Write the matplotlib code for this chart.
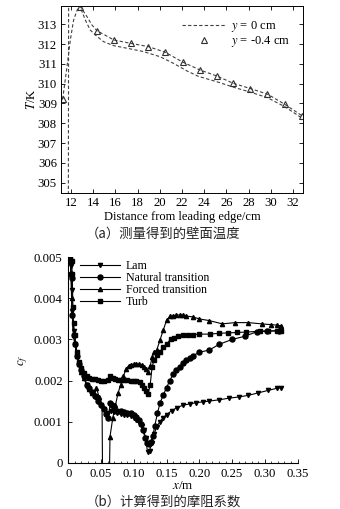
import matplotlib
matplotlib.use("Agg")
import matplotlib.pyplot as plt
from matplotlib.ticker import MultipleLocator
from matplotlib.lines import Line2D

plt.rcParams["font.family"] = ["Liberation Serif", "DejaVu Serif"]
plt.rcParams["mathtext.fontset"] = "stix"
plt.rcParams["font.size"] = 9

# ---- (a) measured wall temperature ----
# y = -0.4 cm: triangle markers
tri_x = [11.25, 12.84, 14.34, 15.89, 17.42, 18.97, 20.47, 22.06, 23.62, 25.12, 26.61, 28.17, 29.70, 31.25, 32.84]
tri_T = [309.22, 313.86, 312.67, 312.20, 312.03, 311.87, 311.59, 311.09, 310.69, 310.39, 310.02, 309.75, 309.47, 308.96, 308.37]
# dashed curve through the triangles
up_x = [11.25, 11.64, 11.94, 12.23, 12.54, 12.84, 13.44, 13.89, 14.34, 15.89, 17.42, 18.97, 20.47, 22.06, 23.62,
        25.12, 26.61, 28.17, 29.70, 31.25, 32.84]
up_T = [309.22, 310.86, 312.20, 313.20, 313.70, 313.90, 313.38, 312.96, 312.67, 312.20, 312.03, 311.87, 311.59,
        311.09, 310.69, 310.39, 310.02, 309.75, 309.47, 308.96, 308.37]
# y = 0 cm: dashed curve
low_x = [11.76, 11.79, 12.30, 12.60, 12.84, 13.30, 13.73, 14.18, 14.93, 15.83, 17.03, 18.52, 20.02, 21.22, 22.42,
         23.47, 25.12, 26.64, 28.17, 29.70, 31.25, 32.84]
low_T = [303.0, 315.5, 315.0, 314.2, 313.85, 313.20, 312.71, 312.46, 312.12, 311.92, 311.79, 311.62, 311.36,
         311.03, 310.65, 310.37, 310.10, 309.82, 309.57, 309.29, 308.84, 308.25]
a_xticks = [12, 14, 16, 18, 20, 22, 24, 26, 28, 30, 32]
a_yticks = [305, 306, 307, 308, 309, 310, 311, 312, 313]

# ---- (b) computed skin friction coefficient ----
lam_x = [0.003, 0.004, 0.005, 0.006, 0.008, 0.010, 0.013, 0.016, 0.020, 0.024, 0.028, 0.032, 0.036, 0.040,
         0.045, 0.050, 0.055, 0.060, 0.065, 0.070, 0.075, 0.080, 0.085, 0.090, 0.095, 0.100, 0.104, 0.108,
         0.112, 0.115, 0.118, 0.121, 0.124, 0.127, 0.131, 0.135, 0.140, 0.145, 0.150, 0.158, 0.166, 0.175,
         0.185, 0.195, 0.205, 0.215, 0.230, 0.245, 0.260, 0.275, 0.290, 0.305, 0.318, 0.325]
lam_cf = [0.0050, 0.0048, 0.0042, 0.0037, 0.0032, 0.0029, 0.0026, 0.0024, 0.0022, 0.00205, 0.0019, 0.0018,
          0.0017, 0.0016, 0.00148, 0.0014, 0.0013, 0.00122, 0.00125, 0.00123, 0.0012, 0.00118, 0.00117,
          0.00115, 0.00113, 0.0011, 0.00105, 0.00098, 0.0009, 0.0008, 0.0006, 0.00025, 0.00028, 0.00048,
          0.0007, 0.00088, 0.0010, 0.0011, 0.00117, 0.00127, 0.00134, 0.0014, 0.00143, 0.00146, 0.00148,
          0.0015, 0.00153, 0.00157, 0.0016, 0.00164, 0.0017, 0.00176, 0.00181, 0.00183]

nat_x = [0.003, 0.004, 0.005, 0.006, 0.008, 0.010, 0.013, 0.016, 0.020, 0.024, 0.028, 0.032, 0.036, 0.040,
         0.045, 0.050, 0.055, 0.058, 0.061, 0.064, 0.067, 0.070, 0.075, 0.080, 0.085, 0.090, 0.095, 0.100,
         0.104, 0.108, 0.111, 0.114, 0.117, 0.120, 0.123, 0.126, 0.129, 0.132, 0.136, 0.140, 0.145, 0.150,
         0.155, 0.160, 0.165, 0.170, 0.175, 0.180, 0.185, 0.190, 0.200, 0.215, 0.230, 0.250, 0.270, 0.288,
         0.303, 0.322]
nat_cf = [0.0049, 0.0046, 0.0045, 0.0036, 0.0031, 0.0029, 0.0026, 0.0024, 0.00225, 0.0021, 0.0019, 0.00182,
          0.00172, 0.00162, 0.0015, 0.0014, 0.0013, 0.00118, 0.00108, 0.00145, 0.0014, 0.0013, 0.00127,
          0.00125, 0.00123, 0.00122, 0.0012, 0.00117, 0.00112, 0.00105, 0.00095, 0.0008, 0.0006, 0.00047,
          0.00045, 0.0005, 0.00065, 0.0009, 0.0012, 0.00145, 0.00165, 0.00183, 0.0020, 0.00216, 0.00225,
          0.00234, 0.00242, 0.0025, 0.00255, 0.0026, 0.00269, 0.00274, 0.00288, 0.0030, 0.00308, 0.00319,
          0.00321, 0.00321]

forc_x = [0.003, 0.004, 0.005, 0.006, 0.008, 0.010, 0.013, 0.016, 0.020, 0.024, 0.028, 0.032, 0.036, 0.040,
          0.043, 0.047, 0.0515, 0.0524, 0.0626, 0.0636, 0.068, 0.072, 0.076, 0.080, 0.084, 0.088, 0.092,
          0.096, 0.100, 0.104, 0.108, 0.112, 0.116, 0.119, 0.122, 0.125, 0.128, 0.131, 0.135, 0.140, 0.145,
          0.150, 0.155, 0.160, 0.165, 0.170, 0.175, 0.180, 0.190, 0.200, 0.215, 0.235, 0.255, 0.275, 0.295,
          0.310, 0.318, 0.325]
forc_cf = [0.0050, 0.0046, 0.0040, 0.0036, 0.0031, 0.0029, 0.0026, 0.0024, 0.0022, 0.00205, 0.0019, 0.0018,
           0.0017, 0.00165, 0.00182, 0.0016, 0.0014, -0.0005, -0.0005, 0.00063, 0.0011, 0.0014, 0.0017,
           0.0019, 0.0021, 0.00228, 0.00236, 0.00239, 0.0024, 0.0024, 0.0024, 0.00238, 0.00234, 0.00228,
           0.00222, 0.00235, 0.00258, 0.0027, 0.00274, 0.00299, 0.00323, 0.00347, 0.00356, 0.00358, 0.00359,
           0.0036, 0.00359, 0.00357, 0.00355, 0.0035, 0.00346, 0.00338, 0.00341, 0.00341, 0.00338, 0.00336,
           0.00335, 0.00333]

turb_x = [0.003, 0.004, 0.005, 0.006, 0.007, 0.008, 0.010, 0.013, 0.016, 0.020, 0.024, 0.028, 0.032, 0.036,
          0.040, 0.045, 0.050, 0.055, 0.060, 0.064, 0.068, 0.072, 0.076, 0.080, 0.085, 0.090, 0.095, 0.100,
          0.104, 0.109, 0.113, 0.116, 0.119, 0.122, 0.125, 0.128, 0.131, 0.135, 0.140, 0.145, 0.150, 0.156,
          0.162, 0.168, 0.175, 0.183, 0.191, 0.200, 0.216, 0.230, 0.244, 0.258, 0.272, 0.292, 0.305, 0.318,
          0.325]
turb_cf = [0.0050, 0.0049, 0.0049, 0.0046, 0.0038, 0.0034, 0.0031, 0.0027, 0.00245, 0.0023, 0.00218, 0.0021,
           0.00206, 0.00204, 0.00203, 0.00202, 0.0020, 0.0020, 0.00201, 0.00212, 0.00206, 0.00203, 0.00202,
           0.00201, 0.00201, 0.00201, 0.0020, 0.0020, 0.0020, 0.00197, 0.0019, 0.00182, 0.00175, 0.00168,
           0.0019, 0.00234, 0.0025, 0.00262, 0.0027, 0.00282, 0.00289, 0.0030, 0.00304, 0.00308, 0.0031,
           0.00311, 0.00312, 0.00313, 0.00313, 0.00315, 0.00316, 0.00317, 0.00318, 0.0032, 0.0032, 0.00321,
           0.0032]
b_xticks = [0, 0.05, 0.10, 0.15, 0.20, 0.25, 0.30, 0.35]
b_xlabels = ["0", "0.05", "0.10", "0.15", "0.20", "0.25", "0.30", "0.35"]
b_yticks = [0, 0.001, 0.002, 0.003, 0.004, 0.005]
b_ylabels = ["0", "0.001", "0.002", "0.003", "0.004", "0.005"]

W, H = 340, 509
fig = plt.figure(figsize=(W / 100, H / 100), dpi=100)

# panel (a)
ax1 = fig.add_axes([61 / W, 1 - 193 / H, 242 / W, 187 / H])
dash = (0, (3, 2))
gray = "#404040"
ax1.plot(low_x, low_T, color=gray, lw=0.8, ls=dash)
ax1.plot(up_x, up_T, color=gray, lw=0.8, ls=dash)
ax1.plot(tri_x, tri_T, ls="none", marker="^", ms=4, mfc="none", mec="#303030", mew=0.8)
ax1.set_xlim(11.1, 32.9)
ax1.set_ylim(304.48, 313.92)
ax1.set_xticks(a_xticks)
ax1.set_yticks(a_yticks)
ax1.tick_params(direction="in", top=True, right=True, length=3, width=0.6, pad=3, labelsize=9.2)
for s in ax1.spines.values():
    s.set_linewidth(0.7)
ax1.set_xlabel("Distance from leading edge/cm", fontsize=9, labelpad=1)
ax1.set_ylabel("$T$/K", fontsize=9.2, labelpad=0)
h1 = [Line2D([], [], color=gray, lw=0.8, ls=dash),
      Line2D([], [], ls="none", marker="^", ms=4, mfc="none", mec="#303030", mew=0.8)]
ax1.legend(h1, ["$y$ = 0 cm", "$y$ = -0.4 cm"], loc="upper left", bbox_to_anchor=(0.5, 0.93),
           frameon=False, fontsize=9, handlelength=3.5, handletextpad=0.45, labelspacing=0.0,
           borderpad=0, borderaxespad=0)
fig.text(163 / W, 1 - 234 / H, "（a）测量得到的壁面温度", ha="center", va="center",
         fontsize=9.6, family=["Noto Sans CJK SC"], weight="medium", color="#222222")

# panel (b)
ax2 = fig.add_axes([68.3 / W, 1 - 462.7 / H, 229.3 / W, 205.4 / H])
st = dict(color="black", lw=0.8, mec="black", mfc="black")
ax2.plot(lam_x, lam_cf, marker="v", ms=3, label="Lam", **st)
ax2.plot(nat_x, nat_cf, marker="o", ms=3.6, label="Natural transition", **st)
ax2.plot(forc_x, forc_cf, marker="^", ms=3, label="Forced transition", **st)
ax2.plot(turb_x, turb_cf, marker="s", ms=2.2, label="Turb", **st)
ax2.set_xlim(0, 0.35)
ax2.set_ylim(0, 0.005)
ax2.set_xticks(b_xticks)
ax2.set_xticklabels(b_xlabels)
ax2.set_yticks(b_yticks)
ax2.set_yticklabels(b_ylabels)
ax2.xaxis.set_minor_locator(MultipleLocator(0.01))
ax2.spines["top"].set_visible(False)
ax2.spines["right"].set_visible(False)
for s in ax2.spines.values():
    s.set_linewidth(0.8)
ax2.tick_params(which="major", direction="in", length=3, width=0.6, pad=4, labelsize=9.2)
ax2.tick_params(which="minor", direction="in", length=1.5, width=0.5)
ax2.set_xlabel("$x$/m", fontsize=9.4, labelpad=0)
ax2.set_ylabel("$c_f$", fontsize=9.4, labelpad=3)
ax2.legend(loc="upper left", bbox_to_anchor=(0.05, 0.985), frameon=False, fontsize=8.6,
           handlelength=3.4, handletextpad=0.45, labelspacing=0.0, borderpad=0, borderaxespad=0,
           numpoints=1)
fig.text(163 / W, 1 - 501.5 / H, "（b）计算得到的摩阻系数", ha="center", va="center",
         fontsize=9.6, family=["Noto Sans CJK SC"], weight="medium", color="#222222")

fig.savefig("out.png", dpi=100)
